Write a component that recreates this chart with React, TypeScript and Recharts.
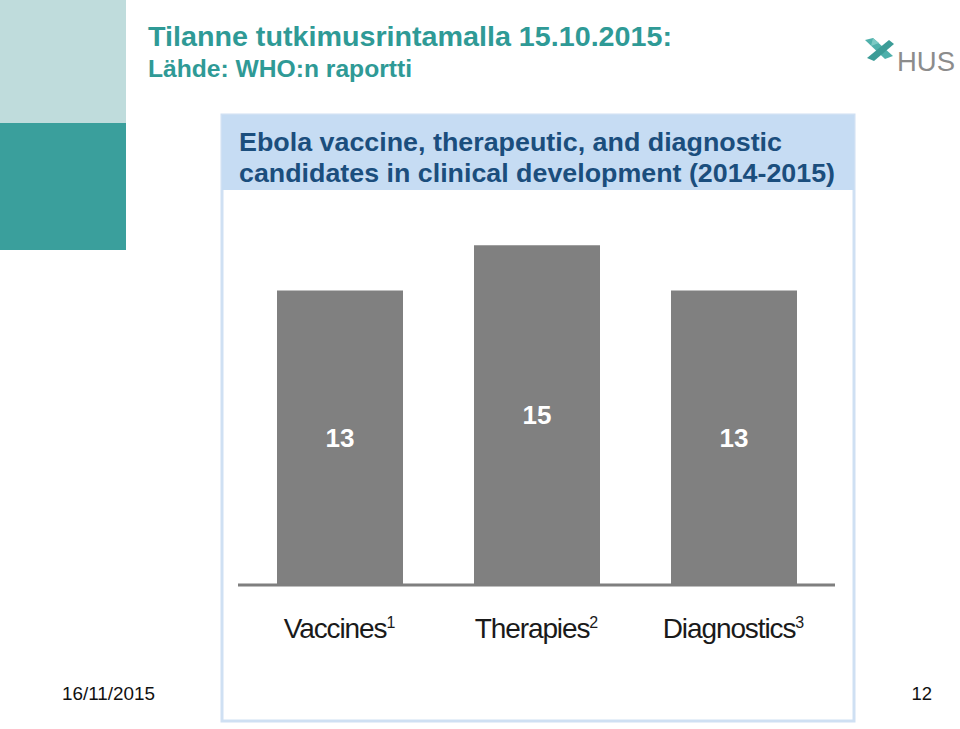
import React from "react";
import { BarChart, Bar, XAxis, YAxis, LabelList } from "recharts";

// WHO report: Ebola candidates in clinical development (2014-2015)
const categories = ["Vaccines", "Therapies", "Diagnostics"];
const footnotes = ["1", "2", "3"];
const candidates = [13, 15, 13];

const data = categories.map((name, i) => ({ name, note: footnotes[i], value: candidates[i] }));

const TEAL = "#2f9a96";
const NAVY = "#1b4e7d";
const SANS = "'Liberation Sans', Arial, Helvetica, sans-serif";

function CategoryTick(props: any) {
  const { x, y, payload, index } = props;
  return (
    <text x={x} y={y + 53} textAnchor="middle" fontFamily={SANS} fontSize={28} fill="#1a1a1a" letterSpacing={-1.1}>
      {payload.value}
      <tspan fontSize={16} dy={-10} letterSpacing={0}>{data[index]?.note}</tspan>
    </text>
  );
}

function Slide() {
  return (
    <svg width={960} height={729} style={{ position: "absolute", left: 0, top: 0 }}>
      <rect x={0} y={0} width={126} height={123} fill="#bfdcdc" />
      <rect x={0} y={123} width={126} height={127} fill="#3a9f9c" />
      <text x={148} y={46} fontFamily={SANS} fontWeight="bold" fontSize={28.5} fill={TEAL} textLength={524} lengthAdjust="spacingAndGlyphs">
        Tilanne tutkimusrintamalla 15.10.2015:
      </text>
      <text x={148} y={77} fontFamily={SANS} fontWeight="bold" fontSize={24} fill={TEAL} textLength={264} lengthAdjust="spacingAndGlyphs">
        Lähde: WHO:n raportti
      </text>
      {/* HUS logo */}
      <g transform="translate(879 50)">
        <polygon points="-14,-10 -6,-12 14,6 6,9" fill="#4fb0ab" />
        <polygon points="-12,8 10,-10 15,-6 -5,11" fill="#3c9c97" />
        <polygon points="-6,-12 0,-7 -8,-4" fill="#7cc9c4" />
      </g>
      <text x={897} y={71} fontFamily={SANS} fontSize={27} fill="#8c8c8c" textLength={58} lengthAdjust="spacingAndGlyphs">
        HUS
      </text>
      {/* chart panel */}
      <rect x={222} y={115} width={632} height={606} fill="#ffffff" stroke="#cfe0f3" strokeWidth={3} />
      <rect x={222} y={115} width={632} height={75} fill="#c6dcf3" />
      <text x={239} y={151} fontFamily={SANS} fontWeight="bold" fontSize={25} fill={NAVY} textLength={543} lengthAdjust="spacingAndGlyphs">
        Ebola vaccine, therapeutic, and diagnostic
      </text>
      <text x={239} y={182} fontFamily={SANS} fontWeight="bold" fontSize={25} fill={NAVY} textLength={596} lengthAdjust="spacingAndGlyphs">
        candidates in clinical development (2014-2015)
      </text>
      <text x={62} y={700} fontFamily={SANS} fontSize={18.5} fill="#111" textLength={93} lengthAdjust="spacingAndGlyphs">16/11/2015</text>
      <text x={932} y={700} textAnchor="end" fontFamily={SANS} fontSize={18.5} fill="#111">12</text>
    </svg>
  );
}

export default function App() {
  return (
    <div style={{ position: "absolute", left: 0, top: 0, width: 960, height: 729, background: "#fff", overflow: "hidden" }}>
      <Slide />
      <div style={{ position: "absolute", left: 221, top: 113 }}>
        <BarChart width={636} height={609} data={data} margin={{ top: 109.6, right: 22, bottom: 0, left: 17 }}>
          <XAxis
            dataKey="name"
            height={137}
            padding={{ left: 3, right: 3 }}
            axisLine={{ stroke: "#7f7f7f", strokeWidth: 3 }}
            tickLine={false}
            tickSize={0}
            tickMargin={0}
            tick={<CategoryTick />}
            interval={0}
          />
          <YAxis hide domain={[0, 16]} />
          <Bar dataKey="value" fill="#808080" barSize={126} isAnimationActive={false}>
            <LabelList dataKey="value" position="center" fill="#ffffff" fontFamily={SANS} fontWeight="bold" fontSize={26} />
          </Bar>
        </BarChart>
      </div>
    </div>
  );
}
